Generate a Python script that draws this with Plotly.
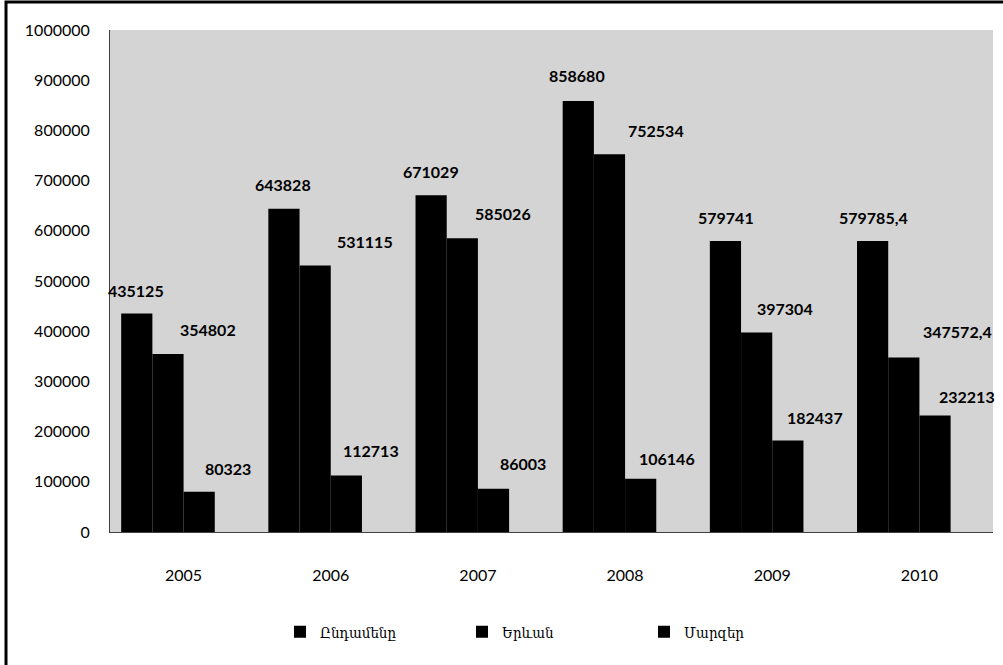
import plotly.graph_objects as go

years = ["2005", "2006", "2007", "2008", "2009", "2010"]
series_names = ["Ընդամենը", "Երևան", "Մարզեր"]
total = [435125, 643828, 671029, 858680, 579741, 579785.4]
yerevan = [354802, 531115, 585026, 752534, 397304, 347572.4]
marzer = [80323, 112713, 86003, 106146, 182437, 232213]
total_lbl = ["435125", "643828", "671029", "858680", "579741", "579785,4"]
yerevan_lbl = ["354802", "531115", "585026", "752534", "397304", "347572,4"]
marzer_lbl = ["80323", "112713", "86003", "106146", "182437", "232213"]
y_ticks = [0, 100000, 200000, 300000, 400000, 500000, 600000, 700000, 800000, 900000, 1000000]

# style: label pixel shifts (relative to category centre / bar top)
lbl_dx = [
    [-47.6, -48, -47.4, -48, -46, -46.4],
    [24, 34, 24.6, 31, 12.7, 37.6],
    [44.4, 40, 45, 42, 42.4, 47.6],
]
lbl_dy = [
    [23, 24, 24, 25, 23, 23],
    [24, 24, 25, 24, 24, 26],
    [23, 24.5, 25, 20, 23, 18.5],
]

W, H = 1003, 665
L, R, T, B = 110, 10, 30, 133
pw, ph = W - L - R, H - T - B

bar_w = 0.212
offsets = [-2 * bar_w, -bar_w, 0.0]

fig = go.Figure()
all_vals = [total, yerevan, marzer]
all_lbls = [total_lbl, yerevan_lbl, marzer_lbl]
for k, (name, vals) in enumerate(zip(series_names, all_vals)):
    fig.add_trace(go.Bar(
        x=years, y=vals, name=name,
        marker=dict(color="#000000", line=dict(width=0)),
        width=bar_w, offset=offsets[k],
        hoverinfo="x+y+name",
    ))

lbl_font = dict(family="Lato, Roboto, sans-serif", size=16, color="#000000")
for k in range(3):
    for i, yr in enumerate(years):
        fig.add_annotation(
            x=i, y=all_vals[k][i], xref="x", yref="y",
            text="<b>%s</b>" % all_lbls[k][i],
            showarrow=False, font=lbl_font,
            xanchor="center", yanchor="middle",
            xshift=lbl_dx[k][i], yshift=lbl_dy[k][i],
        )

tick_font = dict(family="Lato, Roboto, sans-serif", size=16, color="#000000")

fig.update_layout(
    width=W, height=H,
    margin=dict(l=L, r=R, t=T, b=B),
    paper_bgcolor="#ffffff",
    plot_bgcolor="#d4d4d4",
    barmode="overlay",
    showlegend=True,
    legend=dict(
        orientation="h", x=(553 - L) / pw, y=(T + ph - 632) / ph,
        xanchor="center", yanchor="middle",
        font=dict(family="DejaVu Serif Condensed, DejaVu Sans Condensed, DejaVu Serif", size=15, color="#000000"),
        bgcolor="rgba(0,0,0,0)", itemwidth=30, traceorder="normal",
        entrywidth=137, entrywidthmode="pixels",
    ),
    xaxis=dict(
        type="category", categoryorder="array", categoryarray=years,
        showline=True, linecolor="#404040", linewidth=1,
        ticks="", showgrid=False, tickfont=tick_font,
        ticklabelstandoff=29, range=[-0.5, 5.5], fixedrange=True,
    ),
    yaxis=dict(
        range=[0, 1000000], tickmode="array", tickvals=y_ticks,
        ticktext=[str(v) for v in y_ticks],
        showline=True, linecolor="#404040", linewidth=1,
        ticks="", showgrid=False, zeroline=False, tickfont=tick_font,
        ticklabelstandoff=16, fixedrange=True,
    ),
    shapes=[dict(
        type="rect", xref="paper", yref="paper",
        x0=(6 - L) / pw, x1=(W + 3 - L) / pw,
        y0=(T + ph - (H + 3)) / ph, y1=(T + ph - 2) / ph,
        line=dict(color="#000000", width=3), fillcolor="rgba(0,0,0,0)",
        layer="above",
    )],
)

fig.write_html("out.html", config={"displayModeBar": False},
               post_script="document.body.style.margin='0';")
